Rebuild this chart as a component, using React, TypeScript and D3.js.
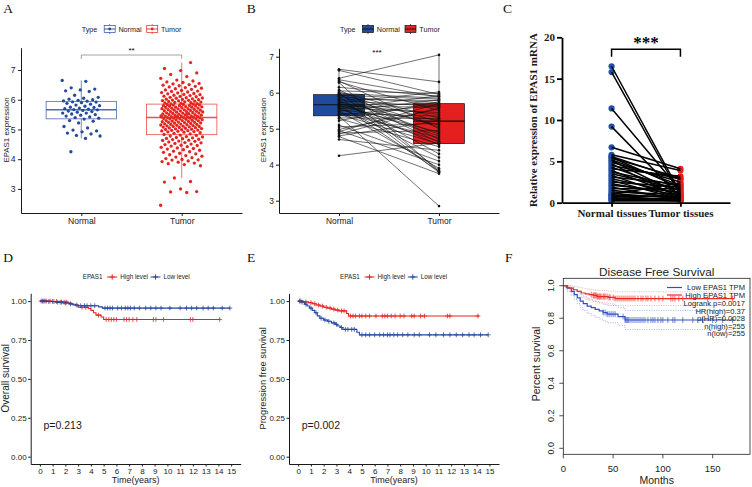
import React, { useEffect, useRef } from "react";
import * as d3 from "d3";

const SANS = "'Liberation Sans', Arial, Helvetica, sans-serif";
const SERIF = "'Liberation Serif', 'Times New Roman', serif";
const BLUE = "#24499e";
const RED = "#e52420";

const groups = ["Normal", "Tumor"];

// A / B: EPAS1 expression (normal samples, sorted high -> low)
const normalExpr = [
  6.65, 6.62, 6.4, 6.36, 6.33, 6.3, 6.28, 6.15, 6.08, 6.05, 6.02, 6.0, 5.98, 5.96, 5.95,
  5.93, 5.92, 5.9, 5.88, 5.85, 5.82, 5.8, 5.78, 5.75, 5.74, 5.72, 5.7, 5.68, 5.67, 5.66,
  5.64, 5.62, 5.6, 5.58, 5.55, 5.55, 5.52, 5.5, 5.48, 5.45, 5.42, 5.4, 5.38, 5.35, 5.3,
  5.28, 5.22, 5.1, 5.05, 4.98, 4.95, 4.92, 4.88, 4.85, 4.8, 4.78, 4.7, 4.25,
];

// A: tumor samples
const tumorExpr = [
  2.45, 2.88, 2.9, 2.91, 3.0, 3.23, 3.25, 3.37,
  3.78, 3.82, 3.85, 3.87, 3.9, 3.92, 3.94, 3.97, 3.98, 3.99,
  4.02, 4.05, 4.07, 4.1, 4.12, 4.15, 4.18, 4.2, 4.23, 4.25, 4.27, 4.3, 4.32, 4.34, 4.36,
  4.38, 4.4, 4.42, 4.44, 4.46, 4.47, 4.49,
  4.51, 4.53, 4.55, 4.56, 4.58, 4.6, 4.61, 4.63, 4.64, 4.66, 4.67, 4.69, 4.7, 4.72, 4.73,
  4.75, 4.76, 4.78, 4.8, 4.81, 4.83, 4.85, 4.87, 4.89, 4.91,
  4.92, 4.93, 4.94, 4.95, 4.96, 4.97, 4.98, 4.99, 5.0, 5.01, 5.02, 5.03, 5.04, 5.05, 5.06,
  5.07, 5.08, 5.09, 5.1, 5.1, 5.11, 5.12, 5.13, 5.14, 5.15, 5.16, 5.17, 5.17, 5.18, 5.19,
  5.2, 5.21, 5.22, 5.23, 5.24, 5.24, 5.25, 5.26, 5.27, 5.28, 5.29, 5.3, 5.3, 5.31, 5.32,
  5.33, 5.34, 5.35, 5.35, 5.36, 5.37, 5.38, 5.38, 5.39, 5.4, 5.4, 5.41, 5.41, 5.42, 5.42,
  5.43, 5.44, 5.45, 5.45, 5.46, 5.47, 5.48, 5.49, 5.5, 5.5, 5.51, 5.52, 5.53, 5.54, 5.55,
  5.55, 5.56, 5.57, 5.58, 5.59, 5.6, 5.6, 5.61, 5.62, 5.63, 5.64, 5.65, 5.65, 5.66, 5.67,
  5.68, 5.69, 5.7, 5.7, 5.71, 5.72, 5.73, 5.74, 5.75, 5.75, 5.76, 5.77, 5.78, 5.79, 5.8,
  5.8, 5.81, 5.82, 5.83, 5.84, 5.84, 5.85, 5.43, 5.46, 5.52,
  5.86, 5.87, 5.88, 5.89, 5.9, 5.91, 5.92, 5.93, 5.94, 5.95, 5.96, 5.97, 5.98, 5.99, 6.0,
  6.01, 6.02, 6.03, 6.05, 6.06, 6.07, 6.08, 6.1, 6.11, 6.12, 6.14, 6.15, 6.17, 6.18, 6.2,
  6.21, 6.23, 6.24, 6.26, 6.28, 6.29,
  6.31, 6.33, 6.35, 6.37, 6.39, 6.41, 6.43, 6.45, 6.47, 6.49, 6.51, 6.53, 6.55, 6.58, 6.6,
  6.63, 6.66, 6.72, 6.78, 6.85, 6.9, 6.98, 7.05, 7.25,
];

// B: paired tumor value for each normalExpr sample (same order)
const pairedTumor = [
  6.3, 5.95, 7.05, 5.88, 5.0, 5.5, 3.8, 5.9, 4.7, 5.98, 5.3, 3.85, 5.85, 5.2, 4.62,
  5.82, 5.05, 3.78, 5.72, 4.85, 5.78, 4.3, 5.62, 5.1, 4.55, 6.02, 4.8, 5.4, 3.82, 5.68,
  4.9, 5.6, 4.2, 5.45, 5.92, 4.65, 5.25, 3.9, 5.8, 4.75, 5.35, 4.58, 5.65, 2.85, 5.28,
  4.5, 5.75, 4.1, 5.15, 5.55, 4.0, 5.7, 4.95, 5.58, 5.22, 3.75, 4.4, 4.6,
];

// C: qPCR relative expression, paired
const qpcrGroups = ["Normal tissues", "Tumor tissues"];
const qpcrNormal = [
  16.5, 15.8, 11.4, 9.2, 6.7, 5.8, 5.6, 5.5, 5.4, 5.2, 5.1, 4.9, 4.7, 4.5, 4.3, 4.1, 3.9,
  3.7, 3.5, 3.3, 3.1, 2.9, 2.7, 2.5, 2.3, 2.1, 1.9, 1.7, 1.5, 1.3, 1.1, 1.0, 0.9, 0.8, 0.7,
  0.6, 0.5, 0.4, 0.3, 0.2,
];
const qpcrTumor = [
  1.2, 0.9, 1.5, 0.7, 4.1, 3.9, 2.8, 1.8, 3.0, 2.1, 1.0, 2.5, 0.6, 2.9, 1.4, 3.2, 0.8,
  2.0, 1.6, 0.5, 2.2, 1.1, 0.4, 1.9, 0.9, 1.3, 0.3, 1.7, 0.6, 1.0, 0.5, 2.4, 0.7, 0.3, 0.8,
  0.4, 0.2, 0.5, 0.3, 0.2,
];

// D: overall survival (years)
const dHighTime = [0, 0.9, 1.5, 2.2, 2.5, 2.8, 3.0, 3.8, 4.0, 4.2, 4.4, 4.8, 5.0];
const dHighSurv = [1, 0.997, 0.993, 0.988, 0.98, 0.97, 0.96, 0.952, 0.94, 0.925, 0.91, 0.898, 0.882];
const dHighCens = [0.1, 0.3, 0.5, 0.8, 1.1, 1.3, 1.6, 1.9, 2.1, 3.3, 3.6, 4.6, 5.2, 5.4, 5.6, 5.8, 6.0, 6.6, 6.8, 7.0, 7.3, 7.6, 8.9, 9.1, 9.7, 11.8, 12.0, 14.1];
const dLowTime = [0, 0.6, 1.2, 1.8, 2.3, 2.6, 3.0, 4.6, 4.9];
const dLowSurv = [1, 0.997, 0.993, 0.988, 0.982, 0.975, 0.97, 0.963, 0.955];
const dLowCens = [0.2, 0.4, 0.7, 1.0, 1.4, 1.7, 2.0, 2.4, 2.9, 3.2, 3.5, 3.7, 4.0, 4.3, 5.1, 5.3, 5.5, 5.7, 6.1, 6.4, 6.7, 6.9, 7.1, 7.4, 7.8, 8.3, 8.7, 9.1, 9.5, 10.2, 11.0, 11.5, 11.9, 12.3, 12.8, 13.2, 13.6, 14.3, 14.9];

// E: progression free survival (years)
const eHighTime = [0, 0.4, 0.8, 1.1, 1.4, 1.7, 2.0, 2.3, 2.6, 2.9, 3.2, 3.8, 3.95];
const eHighSurv = [1, 0.995, 0.99, 0.983, 0.975, 0.968, 0.96, 0.955, 0.948, 0.942, 0.937, 0.92, 0.904];
const eHighCens = [0.2, 0.6, 1.0, 1.3, 1.6, 1.9, 2.2, 2.5, 2.8, 3.1, 3.4, 3.6, 4.1, 4.3, 4.5, 4.8, 5.0, 5.3, 5.6, 6.1, 6.6, 6.8, 7.0, 7.3, 7.6, 8.0, 8.3, 8.9, 9.1, 9.6, 9.9, 11.7, 11.9, 14.1];
const eLowTime = [0, 0.3, 0.5, 0.7, 0.9, 1.1, 1.3, 1.5, 1.7, 2.0, 2.3, 2.6, 2.9, 3.1, 3.3, 3.5, 4.6, 4.8];
const eLowSurv = [1, 0.993, 0.98, 0.968, 0.955, 0.94, 0.925, 0.905, 0.89, 0.878, 0.87, 0.86, 0.85, 0.84, 0.83, 0.818, 0.8, 0.783];
const eLowCens = [0.1, 0.3, 0.6, 1.0, 1.4, 1.8, 2.1, 2.4, 2.8, 3.0, 3.4, 3.7, 3.9, 4.2, 4.4, 5.0, 5.3, 5.6, 6.0, 6.4, 6.7, 7.0, 7.2, 7.5, 7.8, 8.2, 8.6, 9.1, 9.5, 10.3, 10.8, 11.4, 11.9, 12.4, 12.9, 13.4, 13.8, 14.3, 14.9];

// F: disease free survival (months), with 95% CI
const fHighTime = [0, 3, 6, 10, 14, 18, 22, 26, 30, 34, 45, 52];
const fHighSurv = [1, 0.99, 0.985, 0.975, 0.965, 0.955, 0.95, 0.945, 0.94, 0.933, 0.928, 0.921];
const fHighUpper = [1, 1, 0.998, 0.995, 0.99, 0.985, 0.98, 0.977, 0.974, 0.97, 0.967, 0.963];
const fHighLower = [1, 0.975, 0.965, 0.95, 0.937, 0.925, 0.917, 0.91, 0.903, 0.895, 0.888, 0.878];
const fHighCens = [28, 30, 31, 32, 33, 34, 35, 36, 37, 38, 40, 41, 42, 44, 46, 47, 50, 52, 54, 56, 58, 60, 62, 64, 66, 68, 70, 72, 75, 78, 80, 83, 85, 88, 92, 96, 100, 108, 110, 112, 116, 120, 145, 170];
const fLowTime = [0, 4, 8, 11, 14, 17, 20, 24, 28, 32, 36, 40, 44, 55, 62];
const fLowSurv = [1, 0.985, 0.965, 0.945, 0.925, 0.905, 0.89, 0.875, 0.865, 0.855, 0.845, 0.835, 0.825, 0.81, 0.789];
const fLowUpper = [1, 1, 0.99, 0.975, 0.96, 0.945, 0.932, 0.92, 0.912, 0.903, 0.895, 0.886, 0.878, 0.865, 0.848];
const fLowLower = [1, 0.965, 0.94, 0.915, 0.89, 0.865, 0.848, 0.83, 0.818, 0.806, 0.795, 0.783, 0.772, 0.755, 0.73];
const fLowCens = [40, 42, 44, 46, 48, 50, 52, 60, 62, 63, 64, 65, 66, 68, 70, 72, 74, 76, 78, 80, 82, 85, 88, 90, 92, 95, 98, 100, 105, 110, 112, 120, 130, 140, 150, 160, 170];
const fLegend = ["Logrank p=0.0017", "HR(high)=0.37", "p(HR)=0.0028", "n(high)=255", "n(low)=255"];

// spread for jittered points (layout only)
const jit = (i, w) => (((i * 0.6180339887) % 1) - 0.5) * 2 * w;

function boxStats(v) {
  const s = [...v].sort(d3.ascending);
  const q1 = d3.quantile(s, 0.25);
  const med = d3.quantile(s, 0.5);
  const q3 = d3.quantile(s, 0.75);
  const iqr = q3 - q1;
  return {
    q1, med, q3,
    lo: d3.min(s.filter(d => d >= q1 - 1.5 * iqr)),
    hi: d3.max(s.filter(d => d <= q3 + 1.5 * iqr)),
  };
}

function styleAxis(a, size, family = SANS, weight = "normal") {
  a.attr("font-family", null).attr("font-size", null);
  a.selectAll("text").attr("font-size", size).attr("font-family", family)
    .attr("font-weight", weight).attr("fill", "#1a1a1a");
  a.selectAll("line,path").attr("stroke", "#1a1a1a");
}

function vLabel(g, text, x, y, size, family = SANS, weight = "normal") {
  g.append("text").attr("transform", `translate(${x},${y}) rotate(-90)`)
    .attr("text-anchor", "middle").attr("font-family", family).attr("font-size", size)
    .attr("font-weight", weight).attr("fill", "#1a1a1a").text(text);
}

function boxLegend(g, x0, y0, filled) {
  const t = (x, s) => g.append("text").attr("x", x).attr("y", y0).attr("dy", "0.35em")
    .attr("font-family", SANS).attr("font-size", 7.2).attr("fill", "#1a1a1a").text(s);
  t(x0, "Type");
  [BLUE, RED].forEach((c, k) => {
    const cx = x0 + 28 + k * 42.5;
    const stroke = filled ? "#111" : c;
    g.append("line").attr("x1", cx).attr("x2", cx).attr("y1", y0 - 5).attr("y2", y0 + 5)
      .attr("stroke", stroke).attr("stroke-width", 0.7);
    g.append("rect").attr("x", cx - 5.5).attr("y", y0 - 3.5).attr("width", 11).attr("height", 7)
      .attr("fill", filled ? c : "#fff").attr("stroke", stroke).attr("stroke-width", 0.7);
    g.append("line").attr("x1", cx - 5.5).attr("x2", cx + 5.5).attr("y1", y0).attr("y2", y0)
      .attr("stroke", stroke).attr("stroke-width", 0.9);
    if (!filled) g.append("circle").attr("cx", cx).attr("cy", y0).attr("r", 1.4).attr("fill", c);
    t(x0 + 36.7 + k * 42.6, groups[k]);
  });
}

function drawA(svg) {
  const g = svg.append("g");
  const x = d3.scaleLinear().domain([0.4, 2.6]).range([21, 242]);
  const y = d3.scaleLinear().domain([2.19, 7.75]).range([213, 47.7]);
  const sets = [normalExpr, tumorExpr];
  const cols = [BLUE, RED];
  sets.forEach((vals, k) => {
    const b = boxStats(vals);
    const cx = k + 1;
    const bg = g.append("g").attr("stroke", cols[k]).attr("stroke-opacity", 0.8)
      .attr("fill", "none").attr("stroke-width", 0.8);
    bg.append("line").attr("x1", x(cx)).attr("x2", x(cx)).attr("y1", y(b.hi)).attr("y2", y(b.q3));
    bg.append("line").attr("x1", x(cx)).attr("x2", x(cx)).attr("y1", y(b.q1)).attr("y2", y(b.lo));
    bg.append("rect").attr("x", x(cx - 0.35)).attr("width", x(cx + 0.35) - x(cx - 0.35))
      .attr("y", y(b.q3)).attr("height", y(b.q1) - y(b.q3));
    bg.append("line").attr("x1", x(cx - 0.35)).attr("x2", x(cx + 0.35))
      .attr("y1", y(b.med)).attr("y2", y(b.med)).attr("stroke-width", 1.4);
    g.append("g").selectAll("circle").data(vals).join("circle")
      .attr("cx", (d, i) => x(cx + jit(i, k ? 0.21 : 0.19)))
      .attr("cy", d => y(d)).attr("r", 1.65).attr("fill", cols[k]);
  });
  // significance bracket
  g.append("path").attr("d", `M${x(1)},59V55H${x(2)}V59`).attr("fill", "none")
    .attr("stroke", "#666").attr("stroke-width", 0.6);
  g.append("text").attr("x", (x(1) + x(2)) / 2).attr("y", 53).attr("text-anchor", "middle")
    .attr("font-family", SANS).attr("font-size", 8).text("**");

  const xa = g.append("g").attr("transform", "translate(0,213)")
    .call(d3.axisBottom(x).tickValues([1, 2]).tickFormat(d => groups[+d - 1]).tickSize(3).tickSizeOuter(0).tickPadding(2));
  styleAxis(xa, 8.6);
  const ya = g.append("g").attr("transform", "translate(21,0)")
    .call(d3.axisLeft(y).tickValues([3, 4, 5, 6, 7]).tickFormat(d3.format("d")).tickSize(3).tickSizeOuter(0).tickPadding(2.5));
  styleAxis(ya, 8.6);
  vLabel(g, "EPAS1 expression", 8.5, 130, 7.9);
  boxLegend(g, 81.7, 29, false);
}

function drawB(svg) {
  const g = svg.append("g");
  const x = d3.scaleLinear().domain([0.4, 2.6]).range([279, 499]);
  const y = d3.scaleLinear().domain([2.658, 7.233]).range([213, 48.3]);
  const sets = [normalExpr, pairedTumor];
  const cols = ["#1d4c9c", "#e31f1f"];
  sets.forEach((vals, k) => {
    const b = boxStats(vals);
    const cx = k + 1;
    g.append("line").attr("x1", x(cx)).attr("x2", x(cx)).attr("y1", y(b.hi)).attr("y2", y(b.lo))
      .attr("stroke", "#111").attr("stroke-width", 0.6);
    g.append("rect").attr("x", x(cx - 0.255)).attr("width", x(cx + 0.255) - x(cx - 0.255))
      .attr("y", y(b.q3)).attr("height", y(b.q1) - y(b.q3))
      .attr("fill", cols[k]).attr("stroke", "#111").attr("stroke-width", 0.7);
    g.append("line").attr("x1", x(cx - 0.255)).attr("x2", x(cx + 0.255))
      .attr("y1", y(b.med)).attr("y2", y(b.med)).attr("stroke", "#111").attr("stroke-width", 1.2);
  });
  g.append("g").selectAll("line").data(normalExpr).join("line")
    .attr("x1", x(1)).attr("x2", x(2))
    .attr("y1", d => y(d)).attr("y2", (d, i) => y(pairedTumor[i]))
    .attr("stroke", "#111").attr("stroke-width", 0.6);
  [normalExpr, pairedTumor].forEach((vals, k) => {
    g.append("g").selectAll("circle").data(vals).join("circle")
      .attr("cx", x(k + 1)).attr("cy", d => y(d)).attr("r", 1.3).attr("fill", "#111");
  });
  g.append("text").attr("x", 377).attr("y", 55).attr("text-anchor", "middle")
    .attr("font-family", SANS).attr("font-size", 8).text("***");

  const xa = g.append("g").attr("transform", "translate(0,213)")
    .call(d3.axisBottom(x).tickValues([1, 2]).tickFormat(d => groups[+d - 1]).tickSize(3).tickSizeOuter(0).tickPadding(2));
  styleAxis(xa, 8.4);
  const ya = g.append("g").attr("transform", "translate(279,0)")
    .call(d3.axisLeft(y).tickValues([3, 4, 5, 6, 7]).tickFormat(d3.format("d")).tickSize(3).tickSizeOuter(0).tickPadding(2));
  styleAxis(ya, 8.4);
  vLabel(g, "EPAS1 expression", 266, 130, 7.8);
  boxLegend(g, 340, 29, true);
}

function drawC(svg) {
  const g = svg.append("g");
  const x = d3.scalePoint().domain(qpcrGroups).range([562, 730]).padding(0.72);
  const y = d3.scaleLinear().domain([0, 20]).range([202.7, 37.3]);
  const xN = x(qpcrGroups[0]);
  const xT = x(qpcrGroups[1]);
  g.append("g").selectAll("circle").data(qpcrNormal).join("circle")
    .attr("cx", xN).attr("cy", d => y(d)).attr("r", 3.1).attr("fill", "#2350a8");
  g.append("g").selectAll("circle").data(qpcrTumor).join("circle")
    .attr("cx", xT).attr("cy", d => y(d)).attr("r", 3.1).attr("fill", "#ee1d1d");
  g.append("g").selectAll("line").data(qpcrNormal).join("line")
    .attr("x1", xN).attr("x2", xT).attr("y1", d => y(d)).attr("y2", (d, i) => y(qpcrTumor[i]))
    .attr("stroke", "#000").attr("stroke-width", 1.5);

  g.append("path").attr("d", `M${xN},56.7V49.3H${xT}V56.7`).attr("fill", "none")
    .attr("stroke", "#000").attr("stroke-width", 1.5);
  g.append("text").attr("x", (xN + xT) / 2).attr("y", 47.5).attr("text-anchor", "middle")
    .attr("font-family", SERIF).attr("font-weight", "bold").attr("font-size", 17).text("***");

  const ya = g.append("g").attr("transform", "translate(562,0)")
    .call(d3.axisLeft(y).tickValues([0, 5, 10, 15, 20]).tickSize(5).tickSizeOuter(0).tickPadding(2));
  styleAxis(ya, 11, SERIF, "bold");
  ya.selectAll("line,path").attr("stroke", "#000").attr("stroke-width", 1.8);
  const xa = g.append("g").attr("transform", "translate(0,202.7)")
    .call(d3.axisBottom(x).tickSize(4).tickSizeOuter(0).tickPadding(3));
  styleAxis(xa, 11, SERIF, "bold");
  xa.selectAll("line,path").attr("stroke", "#000").attr("stroke-width", 1.8);
  vLabel(g, "Relative expression of EPAS1 mRNA", 537, 120, 11, SERIF, "bold");
}

function survAt(T, S, t) {
  const i = d3.bisectRight(T, t) - 1;
  return S[Math.max(0, i)];
}

function plus(cx, cy, r) {
  return `M${cx - r},${cy}h${2 * r}M${cx},${cy - r}v${2 * r}`;
}

function drawKM(svg, o) {
  const g = svg.append("g");
  const x = d3.scaleLinear().domain([-0.72, 15.75]).range([o.left, o.left + 210]);
  const y = d3.scaleLinear().domain([-0.047, 1.05]).range([464, 293.3]);
  const line = d3.line().curve(d3.curveStepAfter).x(d => x(d[0])).y(d => y(d[1]));
  o.curves.forEach(c => {
    const pts = c.T.map((t, i) => [t, c.S[i]]);
    pts.push([c.end, c.S[c.S.length - 1]]);
    g.append("path").attr("d", line(pts)).attr("fill", "none").attr("stroke", c.color).attr("stroke-width", 1.1);
    g.append("path").attr("d", c.C.map(t => plus(x(t), y(survAt(c.T, c.S, t)), 2.4)).join(""))
      .attr("stroke", c.color).attr("stroke-width", 0.8).attr("fill", "none");
  });
  const xa = g.append("g").attr("transform", "translate(0,464)")
    .call(d3.axisBottom(x).tickValues(d3.range(0, 16)).tickSize(2.5).tickSizeOuter(0).tickPadding(1.5));
  styleAxis(xa, 8);
  const ya = g.append("g").attr("transform", `translate(${o.left},0)`)
    .call(d3.axisLeft(y).tickValues([0, 0.25, 0.5, 0.75, 1]).tickFormat(d3.format(".2f")).tickSize(2.5).tickSizeOuter(0).tickPadding(1.5));
  styleAxis(ya, 8);
  g.append("text").attr("x", o.left + 105).attr("y", 482.5).attr("text-anchor", "middle")
    .attr("font-family", SANS).attr("font-size", 9).attr("fill", "#1a1a1a").text("Time(years)");
  vLabel(g, o.ylab, o.ylabX, 378.3, o.ylabSize);
  g.append("text").attr("x", x(0) + 3.6).attr("y", 429.3).attr("font-family", SANS)
    .attr("font-size", 10.5).attr("fill", "#1a1a1a").text(o.p);

  // legend
  const lx = o.legendX;
  const ly = 277;
  const t = (xx, s) => g.append("text").attr("x", xx).attr("y", ly).attr("dy", "0.35em")
    .attr("font-family", SANS).attr("font-size", 6.3).attr("fill", "#1a1a1a").text(s);
  t(lx, "EPAS1");
  o.curves.forEach((c, k) => {
    const x0 = lx + 24.5 + k * 43.3;
    g.append("path").attr("d", `M${x0},${ly}h10` + plus(x0 + 5, ly, 2.6))
      .attr("stroke", c.color).attr("stroke-width", 1).attr("fill", "none");
    t(x0 + 13, c.name);
  });
}

function drawF(svg) {
  const g = svg.append("g");
  const x = d3.scaleLinear().domain([0, 150]).range([563.3, 712.7]);
  const y = d3.scaleLinear().domain([0, 1]).range([448.3, 285.7]);
  const line = d3.line().curve(d3.curveStepAfter).x(d => x(d[0])).y(d => y(d[1]));
  const end = 172;
  const curves = [
    { T: fLowTime, S: fLowSurv, U: fLowUpper, L: fLowLower, C: fLowCens, color: "#3050c0", light: "#8c9be0" },
    { T: fHighTime, S: fHighSurv, U: fHighUpper, L: fHighLower, C: fHighCens, color: "#ee2a22", light: "#f59b94" },
  ];
  curves.forEach(c => {
    const mk = arr => {
      const p = c.T.map((t, i) => [t, arr[i]]);
      p.push([end, arr[arr.length - 1]]);
      return line(p);
    };
    [c.U, c.L].forEach(arr => {
      g.append("path").attr("d", mk(arr)).attr("fill", "none").attr("stroke", c.light)
        .attr("stroke-width", 0.8).attr("stroke-dasharray", "1,1.4");
    });
  });
  curves.forEach(c => {
    const p = c.T.map((t, i) => [t, c.S[i]]);
    p.push([end, c.S[c.S.length - 1]]);
    g.append("path").attr("d", line(p)).attr("fill", "none").attr("stroke", c.color).attr("stroke-width", 1.2);
    g.append("path").attr("d", c.C.map(t => `M${x(t)},${y(survAt(c.T, c.S, t)) - 3}v6`).join(""))
      .attr("stroke", c.color).attr("stroke-width", 0.7);
  });

  g.append("rect").attr("x", 563.3).attr("y", 278.3).attr("width", 750 - 563.3).attr("height", 454.3 - 278.3)
    .attr("fill", "none").attr("stroke", "#222").attr("stroke-width", 0.8);
  const yt = [0, 0.2, 0.4, 0.6, 0.8, 1];
  g.append("path").attr("d", yt.map(v => `M563.3,${y(v)}h-4`).join("")).attr("stroke", "#222").attr("stroke-width", 0.8);
  yt.forEach(v => {
    g.append("text").attr("transform", `translate(554,${y(v)}) rotate(-90)`).attr("text-anchor", "middle")
      .attr("font-family", SANS).attr("font-size", 9).attr("fill", "#222").text(d3.format(".1f")(v));
  });
  const xt = [0, 50, 100, 150];
  g.append("path").attr("d", xt.map(v => `M${x(v)},454.3v4`).join("")).attr("stroke", "#222").attr("stroke-width", 0.8);
  xt.forEach(v => {
    g.append("text").attr("x", x(v)).attr("y", 472.3).attr("text-anchor", "middle")
      .attr("font-family", SANS).attr("font-size", 9.5).attr("fill", "#222").text(v);
  });
  g.append("text").attr("x", 656.7).attr("y", 483.5).attr("text-anchor", "middle")
    .attr("font-family", SANS).attr("font-size", 10.5).attr("fill", "#222").text("Months");
  vLabel(g, "Percent survival", 539.5, 364, 10.5);
  g.append("text").attr("x", 656.7).attr("y", 276).attr("text-anchor", "middle")
    .attr("font-family", SANS).attr("font-size", 11.8).attr("fill", "#222").text("Disease Free Survival");

  // legend
  const rows = [
    { s: "Low EPAS1 TPM", c: curves[0].color, y: 287.5 },
    { s: "High EPAS1 TPM", c: curves[1].color, y: 295 },
  ];
  rows.forEach(r => {
    g.append("line").attr("x1", 667).attr("x2", 682).attr("y1", r.y).attr("y2", r.y)
      .attr("stroke", r.c).attr("stroke-width", 1.2);
  });
  const all = rows.concat(fLegend.map((s, i) => ({ s, c: null, y: 303.3 + i * 7.6 })));
  all.forEach(r => {
    g.append("text").attr("x", 745).attr("y", r.y).attr("dy", "0.35em").attr("text-anchor", "end")
      .attr("font-family", SANS).attr("font-size", 7.6).attr("fill", "#222").text(r.s);
  });
}

const App = () => {
  const ref = useRef(null);

  useEffect(() => {
    const svg = d3.select(ref.current);
    svg.selectAll("*").remove();
    drawA(svg);
    drawB(svg);
    drawC(svg);
    drawKM(svg, {
      left: 30.7, legendX: 82.7, ylab: "Overall survival", ylabX: 9, ylabSize: 10, p: "p=0.213",
      curves: [
        { name: "High level", T: dHighTime, S: dHighSurv, C: dHighCens, end: 14.1, color: RED },
        { name: "Low level", T: dLowTime, S: dLowSurv, C: dLowCens, end: 14.9, color: BLUE },
      ],
    });
    drawKM(svg, {
      left: 289, legendX: 340, ylab: "Progression free survival", ylabX: 266, ylabSize: 9.3, p: "p=0.002",
      curves: [
        { name: "High level", T: eHighTime, S: eHighSurv, C: eHighCens, end: 14.2, color: RED },
        { name: "Low level", T: eLowTime, S: eLowSurv, C: eLowCens, end: 14.9, color: BLUE },
      ],
    });
    drawF(svg);

    const letters = [["A", 3.3, 12.7], ["B", 246.7, 12.7], ["C", 503, 12.7], ["D", 3.3, 261.7], ["E", 247, 261.7], ["F", 505, 261.7]];
    svg.append("g").selectAll("text").data(letters).join("text")
      .attr("x", d => d[1]).attr("y", d => d[2])
      .attr("font-family", SERIF).attr("font-size", 13.5).attr("fill", "#111").text(d => d[0]);
  }, []);

  return (
    <svg ref={ref} width={752} height={487}
      style={{ position: "absolute", left: 0, top: 0, background: "#fff" }} />
  );
};

export default App;
